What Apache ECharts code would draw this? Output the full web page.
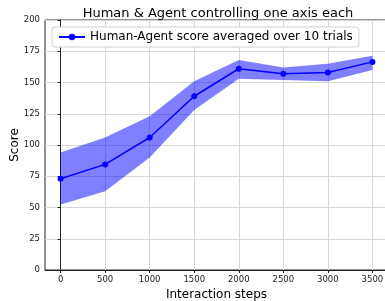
<!DOCTYPE html>
<html>
<head>
<meta charset="utf-8">
<script src="https://cdn.jsdelivr.net/npm/echarts@6/dist/echarts.min.js"></script>
<style>
  html, body { margin: 0; padding: 0; background: #fff; }
  #main { width: 385px; height: 301px; }
</style>
</head>
<body>
<div id="main"></div>
<script>
// steps on the x axis
var steps = [0, 500, 1000, 1500, 2000, 2500, 3000, 3500];
// mean score over 10 trials
var meanScore = [73, 84.5, 106, 139, 161, 157, 158, 166.5];
// band edges (mean -/+ spread)
var lowScore = [52.5, 63, 90, 128, 153, 152, 151, 160];
var highScore = [94, 106, 123, 151, 168, 162, 165, 171.5];
var xTicks = [0, 500, 1000, 1500, 2000, 2500, 3000, 3500];

var chart = echarts.init(document.getElementById('main'), null, { renderer: 'canvas' });

var font = 'DejaVu Sans';

var lineData = steps.map(function (s, i) { return [s, meanScore[i]]; });
var bandData = steps.map(function (s, i) { return [s, lowScore[i], highScore[i]]; });

// shaded band between low and high, drawn as one polygon
function renderBand(params, api) {
  if (params.dataIndex !== 0) return;
  var n = bandData.length;
  var pts = [];
  for (var i = 0; i < n; i++) {
    pts.push(api.coord([api.value(0, i), api.value(1, i)]));
  }
  for (var j = n - 1; j >= 0; j--) {
    pts.push(api.coord([api.value(0, j), api.value(2, j)]));
  }
  return {
    type: 'polygon',
    shape: { points: pts },
    style: { fill: 'rgba(0,0,255,0.5)' },
    clipPath: {
      type: 'rect',
      shape: params.coordSys
    }
  };
}

var option = {
  animation: false,
  title: {
    text: 'Human & Agent controlling one axis each',
    left: 213,
    textAlign: 'center',
    top: 2,
    textStyle: { fontFamily: font, fontSize: 13, fontWeight: 'normal', color: '#000' }
  },
  legend: {
    data: [{ name: 'Human-Agent score averaged over 10 trials' }],
    left: 52,
    top: 27,
    itemWidth: 26,
    itemHeight: 8,
    itemGap: 6,
    padding: [4, 6, 4, 6],
    backgroundColor: '#fff',
    borderColor: '#d0d0d0',
    borderWidth: 1,
    borderRadius: 3,
    textStyle: { fontFamily: font, fontSize: 12, color: '#000' }
  },
  grid: {
    left: 45,
    right: -3,
    top: 20,
    bottom: 31,
    outerBoundsMode: 'none',
    containLabel: false,
    show: true,
    borderColor: '#222',
    borderWidth: 1
  },
  xAxis: {
    type: 'value',
    min: -175,
    max: 3675,
    name: 'Interaction steps',
    nameLocation: 'middle',
    nameGap: 18,
    nameTextStyle: { fontFamily: font, fontSize: 12, color: '#000' },
    axisLine: { show: true, lineStyle: { color: '#222' } },
    axisTick: { show: true, customValues: xTicks, length: 3, lineStyle: { color: '#222' } },
    axisLabel: {
      customValues: xTicks,
      fontFamily: font, fontSize: 8.5, color: '#222', margin: 5,
      formatter: function (v) { return String(v); }
    },
    splitLine: { show: true, customValues: xTicks, lineStyle: { color: '#d6d6d6', width: 1 } }
  },
  yAxis: {
    type: 'value',
    min: 0,
    max: 200,
    interval: 25,
    name: 'Score',
    nameLocation: 'middle',
    nameGap: 24,
    nameMoveOverlap: false,
    nameTextStyle: { fontFamily: font, fontSize: 12, color: '#000' },
    axisLine: { show: true, lineStyle: { color: '#222' } },
    axisTick: { show: true, length: 3, lineStyle: { color: '#222' } },
    axisLabel: { fontFamily: font, fontSize: 8.5, color: '#222', margin: 5 },
    splitLine: { show: true, lineStyle: { color: '#d6d6d6', width: 1 } }
  },
  series: [
    {
      name: 'band',
      type: 'custom',
      renderItem: renderBand,
      data: bandData,
      encode: { x: 0, y: [1, 2] },
      silent: true,
      z: 1
    },
    {
      name: 'Human-Agent score averaged over 10 trials',
      type: 'line',
      data: lineData,
      symbol: 'circle',
      symbolSize: 6,
      showSymbol: true,
      itemStyle: { color: '#0000ff' },
      lineStyle: { color: '#0000ff', width: 1.5 },
      z: 3
    }
  ]
};

chart.setOption(option);
</script>
</body>
</html>
